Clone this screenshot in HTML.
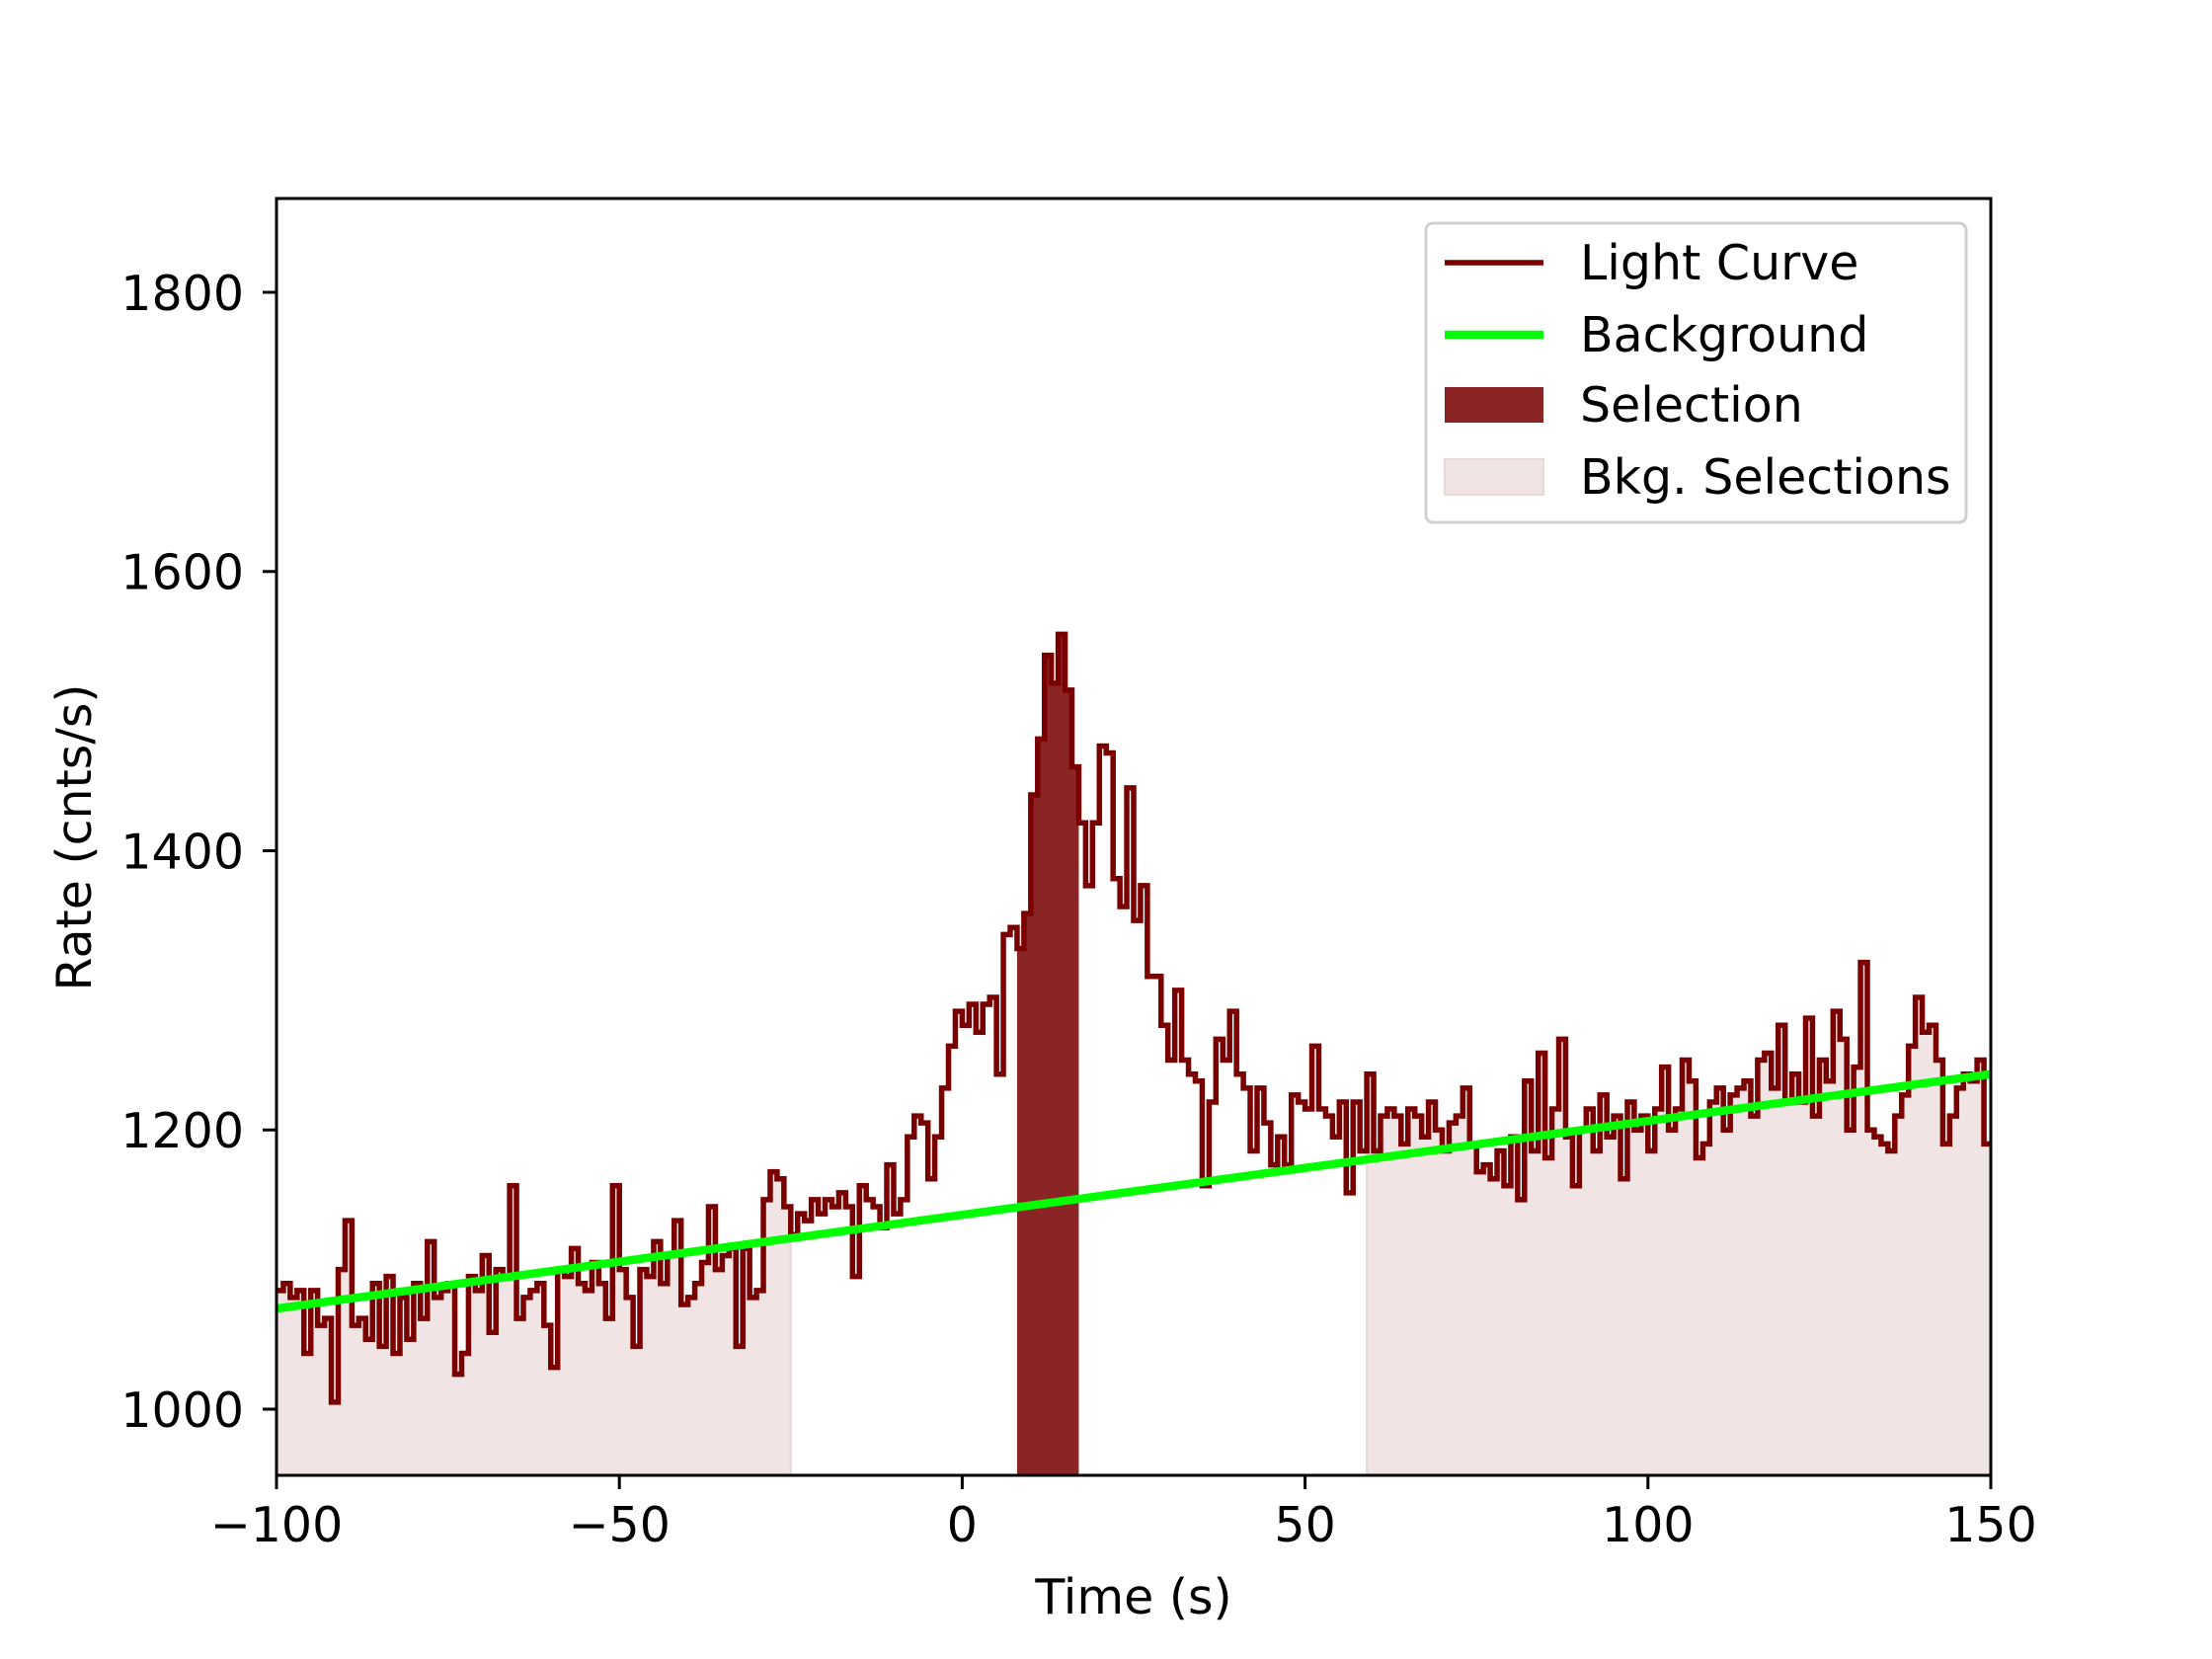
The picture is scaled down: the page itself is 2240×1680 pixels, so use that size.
<!DOCTYPE html>
<html><head><meta charset="utf-8"><style>
html,body{margin:0;padding:0;background:#fff;}
svg{display:block;font-family:"DejaVu Sans","Liberation Sans",sans-serif;}
</style></head><body>
<svg id="chart" width="2240" height="1680" viewBox="0 0 2240 1680" xmlns="http://www.w3.org/2000/svg">
<rect x="0" y="0" width="2240" height="1680" fill="#fff"/>
<g id="plot"></g>
</svg>
<script>
const tStart = -100;
const binWidth = 1;
const rates = [
1085,1090,1080,1085,1040,1085,1060,1065,1005,1100,
1135,1060,1065,1050,1090,1045,1095,1040,1080,1050,
1090,1065,1120,1080,1085,1090,1025,1040,1095,1085,
1110,1055,1100,1095,1160,1065,1080,1085,1090,1060,
1030,1100,1095,1115,1090,1085,1105,1090,1065,1160,
1100,1080,1045,1100,1095,1120,1090,1110,1135,1075,
1080,1090,1105,1145,1100,1110,1115,1045,1115,1080,
1085,1150,1170,1165,1145,1125,1140,1135,1150,1140,
1150,1145,1155,1145,1095,1160,1150,1145,1130,1175,
1140,1150,1195,1210,1205,1165,1195,1230,1260,1285,
1275,1290,1270,1290,1295,1240,1340,1345,1330,1355,
1440,1480,1540,1520,1555,1515,1460,1420,1375,1420,
1475,1470,1380,1360,1445,1350,1375,1310,1310,1275,
1250,1300,1250,1240,1235,1160,1220,1265,1250,1285,
1240,1230,1185,1230,1205,1175,1195,1175,1225,1220,
1215,1260,1215,1210,1195,1220,1155,1220,1185,1240,
1185,1210,1215,1210,1190,1215,1210,1195,1220,1200,
1185,1205,1210,1230,1190,1170,1175,1165,1185,1160,
1195,1150,1235,1185,1255,1180,1215,1265,1195,1160,
1200,1215,1185,1225,1195,1210,1165,1220,1200,1210,
1185,1215,1245,1200,1215,1250,1235,1180,1190,1220,
1230,1200,1225,1230,1235,1210,1250,1255,1230,1275,
1220,1240,1220,1280,1210,1250,1235,1285,1265,1200,
1245,1320,1200,1195,1190,1185,1210,1225,1260,1295,
1270,1275,1250,1190,1210,1230,1240,1235,1250,1190
];
const bkgLine = [[-100,1072],[150,1240]];
const selection = [8,17];
const bkgSelections = [[-100,-25],[59,150]];
const xTicks = [-100,-50,0,50,100,150];
const xTickLabels = ["\u2212100","\u221250","0","50","100","150"];
const yTicks = [1000,1200,1400,1600,1800];
const yTickLabels = ["1000","1200","1400","1600","1800"];

const L=280,R=2016,T=201,B=1494;
const xMin=-100,xMax=150,yMin=952.6,yMax=1867.2;
const X=v=>L+(v-xMin)/(xMax-xMin)*(R-L);
const Y=v=>B-(v-yMin)/(yMax-yMin)*(B-T);
const NS="http://www.w3.org/2000/svg";
const g=document.getElementById('plot');
const FS=49;
function mk(tag,attrs){const e=document.createElementNS(NS,tag);for(const k in attrs)e.setAttribute(k,attrs[k]);g.appendChild(e);return e;}

const defs=mk('defs',{});
const cp=document.createElementNS(NS,'clipPath');cp.setAttribute('id','clip');
const cr=document.createElementNS(NS,'rect');cr.setAttribute('x',L);cr.setAttribute('y',T);cr.setAttribute('width',R-L);cr.setAttribute('height',B-T);
cp.appendChild(cr);defs.appendChild(cp);

function areaPath(a,b){
  let d='M'+X(a)+','+Y(yMin);
  for(let i=0;i<rates.length;i++){
    const t0=tStart+i*binWidth,t1=t0+binWidth;
    const s=Math.max(t0,a),e=Math.min(t1,b);
    if(e<=s)continue;
    d+=' L'+X(s)+','+Y(rates[i])+' L'+X(e)+','+Y(rates[i]);
  }
  d+=' L'+X(b)+','+Y(yMin)+' Z';
  return d;
}
bkgSelections.forEach((r,i)=>{
  const p=mk('path',{d:areaPath(r[0],r[1]),fill:'#f0e4e4',stroke:'#ead8d8','stroke-width':2,'clip-path':'url(#clip)'});
  
  
});
const sp=mk('path',{d:areaPath(selection[0],selection[1]),fill:'#8b2525','clip-path':'url(#clip)'});



let d='';
for(let i=0;i<rates.length;i++){
  const t0=tStart+i*binWidth,t1=t0+binWidth;
  d+=(i===0?'M':' L')+X(t0).toFixed(2)+','+Y(rates[i]).toFixed(2)+' L'+X(t1).toFixed(2)+','+Y(rates[i]).toFixed(2);
}
const lc=mk('path',{d:d,fill:'none',stroke:'#7a0000','stroke-width':5.5,'stroke-linejoin':'miter','clip-path':'url(#clip)'});



const bl=mk('line',{x1:X(bkgLine[0][0]),y1:Y(bkgLine[0][1]),x2:X(bkgLine[1][0]),y2:Y(bkgLine[1][1]),stroke:'#00ff00','stroke-width':8.5,'clip-path':'url(#clip)'});



const fr=mk('rect',{x:L,y:T,width:R-L,height:B-T,fill:'none',stroke:'#000','stroke-width':3});



xTicks.forEach((v,i)=>{
  const tk=mk('line',{x1:X(v),y1:B,x2:X(v),y2:B+14,stroke:'#000','stroke-width':3});
  
  
  const tx=mk('text',{x:X(v),y:B+67,'font-size':FS,'text-anchor':'middle',fill:'#000'});
  tx.textContent=xTickLabels[i];
  
  
});
yTicks.forEach((v,i)=>{
  const tk=mk('line',{x1:L-14,y1:Y(v),x2:L,y2:Y(v),stroke:'#000','stroke-width':3});
  
  
  const tx=mk('text',{x:L-33,y:Y(v)+18,'font-size':FS,'text-anchor':'end',fill:'#000'});
  tx.textContent=yTickLabels[i];
  
  
});
const xl=mk('text',{x:(L+R)/2,y:1634,'font-size':FS,'text-anchor':'middle',fill:'#000'});
xl.textContent='Time (s)';


const yl=mk('text',{x:0,y:0,'font-size':FS,'text-anchor':'middle',fill:'#000',transform:'translate(92,848) rotate(-90)'});
yl.textContent='Rate (cnts/s)';



const lg=mk('rect',{x:1444,y:226,width:547,height:303,rx:7,fill:'#fff','fill-opacity':0.8,stroke:'#d0d0d0','stroke-width':3});


const entries=[['Light Curve',266],['Background',339],['Selection',410],['Bkg. Selections',483]];
const h1=mk('line',{x1:1463,y1:266,x2:1563,y2:266,stroke:'#7a0000','stroke-width':5.5});


const h2=mk('line',{x1:1463,y1:339,x2:1563,y2:339,stroke:'#00ff00','stroke-width':8.5});


const h3=mk('rect',{x:1463,y:392,width:100,height:36,fill:'#8b2525'});


const h4=mk('rect',{x:1463,y:465,width:100,height:36,fill:'#f0e4e4',stroke:'#ead8d8','stroke-width':2});


entries.forEach(e=>{
  const t=mk('text',{x:1600,y:e[1]+17,'font-size':FS,fill:'#000'});
  t.textContent=e[0];
  
  
});
</script>
</body></html>
